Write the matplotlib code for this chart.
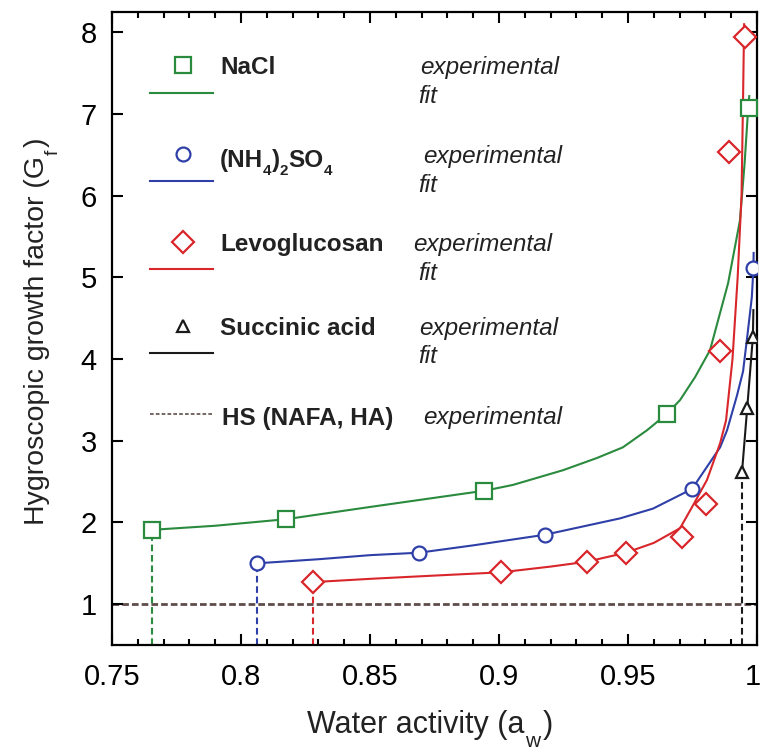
import matplotlib
matplotlib.use('Agg')
import matplotlib.pyplot as plt
from matplotlib.ticker import MultipleLocator, FuncFormatter

plt.rcParams['font.family'] = ['Liberation Sans', 'DejaVu Sans']

# experimental points
nacl_aw = [0.7655, 0.8174, 0.8942, 0.9651, 0.9970]
nacl_gf = [1.91, 2.04, 2.38, 3.33, 7.08]
as_aw = [0.8062, 0.869, 0.9178, 0.9748, 0.9986]
as_gf = [1.50, 1.63, 1.85, 2.41, 5.11]
levo_aw = [0.828, 0.9008, 0.9341, 0.9492, 0.9709, 0.9802, 0.9857, 0.9891, 0.9953]
levo_gf = [1.27, 1.39, 1.52, 1.63, 1.82, 2.23, 4.10, 6.53, 7.94]
succ_aw = [0.9942, 0.9962, 0.9984]
succ_gf = [2.62, 3.40, 4.27]
hs_gf = 1.0

# fit curves
nacl_fit_aw = [0.7655, 0.79, 0.8174, 0.85, 0.8946, 0.9054, 0.9248, 0.938, 0.948,
               0.9574, 0.9651, 0.9702, 0.976, 0.9818, 0.9888, 0.9934, 0.9952, 0.9966, 0.9970]
nacl_fit_gf = [1.91, 1.96, 2.04, 2.19, 2.39, 2.46, 2.64, 2.79, 2.92,
               3.13, 3.33, 3.50, 3.78, 4.11, 4.93, 5.70, 6.40, 7.08, 7.22]
as_fit_aw = [0.8062, 0.83, 0.85, 0.869, 0.89, 0.9178, 0.9469, 0.9597, 0.9748,
             0.9857, 0.9884, 0.9922, 0.9946, 0.9965, 0.998, 0.9986, 0.9987]
as_fit_gf = [1.50, 1.55, 1.60, 1.63, 1.72, 1.85, 2.05, 2.17, 2.41,
             2.92, 3.13, 3.55, 3.85, 4.35, 4.76, 5.11, 5.30]
levo_fit_aw = [0.828, 0.85, 0.875, 0.9008, 0.92, 0.9341, 0.9492, 0.96, 0.9702,
               0.9752, 0.9806, 0.9857, 0.9880, 0.9905, 0.9925, 0.9940, 0.9946, 0.9950]
levo_fit_gf = [1.27, 1.31, 1.35, 1.39, 1.46, 1.52, 1.63, 1.75, 1.93,
               2.21, 2.52, 2.97, 3.25, 4.0, 5.0, 6.0, 7.2, 8.1]
succ_fit_aw = [0.9942, 0.9962, 0.9984, 0.9986]
succ_fit_gf = [2.62, 3.40, 4.27, 4.6]

green = '#2a8a3e'
blue = '#2f3fa8'
red = '#d8262b'
black = '#1a1a1a'
brown = '#5e4d4a'
txtc = '#222222'

W, H = 763, 750
fig = plt.figure(figsize=(W / 100, H / 100), dpi=100)
L, T, R, B = 112, 12, 757, 645
ax = fig.add_axes([L / W, 1 - B / H, (R - L) / W, (B - T) / H])
rend = fig.canvas.get_renderer()


def axpos(px, py):
    return (px - L) / (R - L), (B - py) / (B - T)


def chain(px, py, pieces, rot=False, **kw):
    # pieces: (text, size, shift below baseline in px, gap before in px)
    if not rot:
        pos = px
        for s, size, shift, gap in pieces:
            t = fig.text((pos + gap) / W, (H - py - shift) / H, s, fontsize=size,
                         ha='left', va='baseline', **kw)
            pos = t.get_window_extent(rend).x1
    else:
        pos = H - py
        for s, size, shift, gap in pieces:
            t = fig.text((px + shift) / W, (pos + gap) / H, s, fontsize=size,
                         rotation=90, rotation_mode='anchor',
                         ha='left', va='baseline', **kw)
            pos = t.get_window_extent(rend).y1


# horizontal HS line
ax.axhline(hs_gf, color=brown, lw=2, dashes=(2.4, 1.1), zorder=1)

series = [
    (nacl_aw, nacl_gf, nacl_fit_aw, nacl_fit_gf, green, 's', 11),
    (as_aw, as_gf, as_fit_aw, as_fit_gf, blue, 'o', 10),
    (levo_aw, levo_gf, levo_fit_aw, levo_fit_gf, red, 'D', 11.5),
    (succ_aw, succ_gf, succ_fit_aw, succ_fit_gf, black, '^', 8),
]
for aw, gf, faw, fgf, c, m, ms in series:
    ax.plot(faw, fgf, color=c, lw=1.5, zorder=2)
    ax.plot(aw, gf, ls='none', marker=m, ms=ms, mfc='white', mec=c, mew=1.6, zorder=3)
    # drop line from the first point to the bottom
    ax.plot([aw[0], aw[0]], [0.5, gf[0]], color=c, lw=1.5, dashes=(3.2, 1.8), zorder=1)

ax.set_xlim(0.75, 1.0)
ax.set_ylim(0.5, 8.25)
ax.xaxis.set_major_locator(MultipleLocator(0.05))
ax.xaxis.set_minor_locator(MultipleLocator(0.01))
ax.yaxis.set_major_locator(MultipleLocator(1))
# the "1" at the right end is drawn separately so it stays inside the picture
ax.xaxis.set_major_formatter(FuncFormatter(lambda v, p: '' if v > 0.999 else '%g' % v))
ax.tick_params(which='both', direction='in', top=True, right=True, width=1.5, labelsize=21)
ax.tick_params(which='major', length=8, pad=11)
ax.tick_params(which='minor', length=4.5)
ax.tick_params(axis='x', pad=13)
for s in ax.spines.values():
    s.set_linewidth(1.6)

fig.canvas.draw()
ref = ax.get_xticklabels()[0].get_window_extent(rend)
fig.text(753 / W, ref.y1 / H, '1', fontsize=21, ha='center', va='top', color='black')

# axis titles with lowered subscripts
chain(307, 733, [('Water activity (a', 22, 0, 0), ('w', 15, 14, 1), (')', 22, 0, 2)], color=txtc)
chain(44, 525, [('Hygroscopic growth factor (G', 20.5, 0, 0), ('f', 14, 14, 1), (')', 20.5, 0, 3)],
      rot=True, color=txtc)

# legend drawn by hand
leg = [
    ([('NaCl', 17.5, 0, 0)], green, 's', 11, 65, 93, 74, 420, 74, 103),
    ([('(NH', 17.5, 0, 0), ('4', 11, 8, 0), (')', 17.5, 0, 0), ('2', 11, 8, 0),
      ('SO', 17.5, 0, 0), ('4', 11, 8, 0)], blue, 'o', 10, 154, 181, 167, 423, 163, 192),
    ([('Levoglucosan', 17.5, 0, 0)], red, 'D', 11.5, 242, 269, 251, 413, 251, 280),
    ([('Succinic acid', 17.5, 0, 0)], black, '^', 8, 326, 353, 335, 419, 335, 363),
]
for pieces, c, m, ms, ym, yl, yb, xe, ye, yf in leg:
    mx, my = axpos(183, ym)
    ax.plot([mx], [my], marker=m, ms=ms, mfc='white', mec=c, mew=1.6,
            transform=ax.transAxes, clip_on=False)
    x0, yy = axpos(150, yl)
    x1, _ = axpos(213, yl)
    ax.plot([x0, x1], [yy, yy], color=c, lw=1.5, transform=ax.transAxes, clip_on=False)
    chain(220, yb, pieces, color=txtc, fontweight='bold')
    chain(xe, ye, [('experimental', 17.5, 0, 0)], color=txtc, style='italic')
    chain(418, yf, [('fit', 17.5, 0, 0)], color=txtc, style='italic')

x0, yy = axpos(150, 414)
x1, _ = axpos(213, 414)
ax.plot([x0, x1], [yy, yy], color=brown, lw=1.2, dashes=(2.2, 1.3),
        transform=ax.transAxes, clip_on=False)
chain(222, 425, [('HS (NAFA, HA)', 17.5, 0, 0)], color=txtc, fontweight='bold')
chain(423, 424, [('experimental', 17.5, 0, 0)], color=txtc, style='italic')

fig.savefig('out.png', dpi=100)
